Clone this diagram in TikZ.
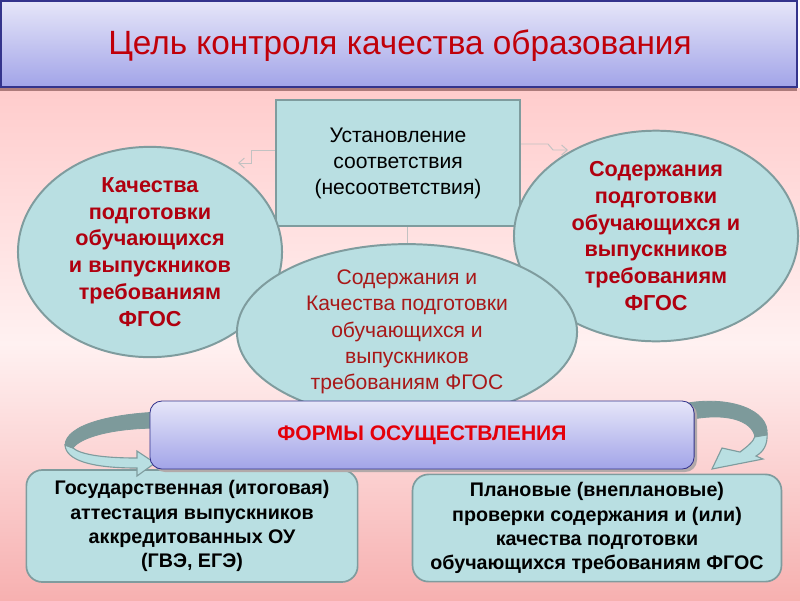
\documentclass[tikz,border=0pt]{standalone}
\usepackage{fontspec}
\setmainfont{Liberation Sans}
\usetikzlibrary{shapes.geometric,arrows.meta}
\definecolor{tealfill}{HTML}{B9DFE2}
\definecolor{tealline}{HTML}{7F9C9E}
\definecolor{darkred}{HTML}{B0000F}
\definecolor{midred}{HTML}{A81818}
\definecolor{titlered}{HTML}{C0000A}
\definecolor{formsred}{HTML}{E4000A}
\definecolor{lavtop}{HTML}{E6E6F9}
\definecolor{lavbot}{HTML}{A2A4E8}
\definecolor{navy}{HTML}{34348C}
\definecolor{pinktop}{HTML}{FFCCCC}
\definecolor{pinkmid}{HTML}{FFF1F1}
\definecolor{pinkbot}{HTML}{F7B0B0}
\definecolor{bandgray}{HTML}{7D9A9B}
\definecolor{hintgray}{HTML}{C2C2C2}
\tikzset{
  basis/.style={rectangle, fill=tealfill, draw=tealline, line width=1.4pt,
    minimum width=6.1cm, minimum height=3.15cm, align=center,
    font=\fontsize{15pt}{18.5pt}\selectfont},
  goal/.style={ellipse, fill=tealfill, draw=tealline, line width=1.4pt,
    inner sep=0pt, align=center, text=darkred,
    font=\fontsize{15.4pt}{19pt}\selectfont\bfseries},
  method/.style={rectangle, rounded corners=0.4cm, fill=tealfill, draw=tealline,
    line width=1.2pt, align=center, inner sep=0pt,
    font=\fontsize{14pt}{17.2pt}\selectfont\bfseries},
  hint/.style={draw=hintgray, line width=0.7pt, -{Straight Barb[length=4pt,width=7pt]}},
  band/.style={fill=bandgray, draw=bandgray, line width=0.6pt},
  bandlight/.style={fill=tealfill, draw=tealline, line width=0.8pt}
}
\begin{document}
\begin{tikzpicture}[x=0.025cm, y=-0.025cm]
  \useasboundingbox (0,0) rectangle (800,600);
  % background
  \shade[top color=pinktop, bottom color=pinkbot, middle color=pinkmid] (0,88) rectangle (800,600);
  % title bar
  \fill[black!30!pinkbot] (0,87) rectangle (797,91);
  \shade[top color=lavtop, bottom color=lavbot, draw=navy, line width=0.8pt] (1,1) rectangle (797,87);
  \node (title) at (400,46) {\fontsize{22.8pt}{26pt}\selectfont\color{titlered}\scalebox{1.04}[1.05]{Цель контроля качества образования}};

  \node[basis] (ust) at (398,163) {Установление\\соответствия\\(несоответствия)};
  \coordinate (kl) at (238,163);
  \coordinate (kr) at (568,150);
  \coordinate (kd) at (407,252);
  \draw[hint] (ust.west) ++(0,-13) -- ++(-23,0) -- ++(0,13) -- (kl);
  \draw[hint] (ust.east) ++(0,-19) -- ++(27,0) -- ++(5,6) -- (kr);
  \draw[hint] (ust.south -| kd) -- (kd);

  \node[goal, minimum width=6.6cm, minimum height=4.25cm] (kach) at (150,252)
    {Качества\\подготовки\\обучающихся\\и выпускников\\требованиям\\ФГОС};
  \node[goal, minimum width=7.1cm, minimum height=4.15cm] (sod) at (656,236)
    {Содержания\\подготовки\\обучающихся и\\выпускников\\требованиям\\ФГОС};
  \node[goal, minimum width=8.5cm, minimum height=3.5cm, text=midred,
    font=\fontsize{15pt}{18.7pt}\selectfont] (both) at (407,332)
    {Содержания и\\Качества подготовки\\обучающихся и\\выпускников\\требованиям ФГОС};

  \node[method, minimum width=8.28cm, minimum height=2.8cm] (gia) at (192,526)
    {Государственная (итоговая)\\аттестация выпускников\\аккредитованных ОУ\\(ГВЭ, ЕГЭ)};
  \node[method, minimum width=9.22cm, minimum height=2.68cm] (plan) at (597,528)
    {Плановые (внеплановые)\\проверки содержания и (или)\\качества подготовки\\обучающихся требованиям ФГОС};

  % curved arrows
  \draw[bandlight] (65,445) .. controls (66,460) and (90,468) .. (137,468)
    -- (137,476) -- (155,463) -- (137,451) -- (137,458)
    .. controls (100,458) and (80,454) .. (73,448) -- cycle;
  \draw[band] (160,412) .. controls (110,414) and (66,425) .. (65,445)
    -- (73,448) .. controls (80,438) and (110,428) .. (160,428) -- cycle;
  \draw[bandlight] (767,433) .. controls (768,445) and (763,452) .. (756,456)
    -- (763,459) -- (712,469) -- (722,448) -- (740,452)
    .. controls (748,446) and (754,441) .. (755,436) -- cycle;
  \draw[band] (688,403) .. controls (730,396) and (770,410) .. (767,435)
    -- (755,437) .. controls (752,420) and (725,412) .. (688,420) -- cycle;

  \fill[black!30!pinkmid, rounded corners=0.3cm] (153,403) rectangle (697,472);
  \node[rectangle, rounded corners=0.3cm, top color=lavtop, bottom color=lavbot,
    draw=navy, line width=0.6pt, minimum width=13.6cm, minimum height=1.7cm,
    font=\fontsize{15pt}{18pt}\selectfont\bfseries, text=formsred] (forms) at (422,435)
    {ФОРМЫ ОСУЩЕСТВЛЕНИЯ};
\end{tikzpicture}
\end{document}
